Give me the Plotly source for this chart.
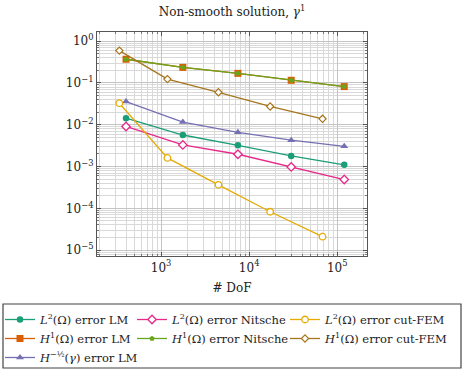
import plotly.graph_objects as go

# ---- data ----
x_lm = [400, 1766, 7450, 30000, 120000]
l2_lm = [0.0144, 0.00569, 0.00323, 0.0018, 0.0011]
h1_lm = [0.37, 0.236, 0.17, 0.116, 0.082]
hm_lm = [0.0359, 0.0116, 0.0066, 0.00427, 0.00305]

x_nit = [400, 1766, 7450, 30000, 120000]
l2_nit = [0.0091, 0.0033, 0.00197, 0.00098, 0.00049]
h1_nit = [0.37, 0.236, 0.17, 0.116, 0.082]

x_cut = [336, 1180, 4480, 17300, 68000]
l2_cut = [0.0328, 0.00161, 0.000366, 8.3e-5, 2.1e-5]
h1_cut = [0.595, 0.124, 0.060, 0.0274, 0.0139]

x_tickvals = [1e3, 1e4, 1e5]
x_ticktext = ["10<sup>3</sup>", "10<sup>4</sup>", "10<sup>5</sup>"]
y_tickvals = [1e0, 1e-1, 1e-2, 1e-3, 1e-4, 1e-5]
y_ticktext = ["10<sup>0</sup>", "10<sup>−1</sup>", "10<sup>−2</sup>",
              "10<sup>−3</sup>", "10<sup>−4</sup>", "10<sup>−5</sup>"]

names = {
    "l2_lm": "<i>L</i><sup>2</sup>(Ω) error LM",
    "h1_lm": "<i>H</i><sup>1</sup>(Ω) error LM",
    "hm_lm": "<i>H</i><sup>−½</sup>(<i>γ</i>) error LM",
    "l2_nit": "<i>L</i><sup>2</sup>(Ω) error Nitsche",
    "h1_nit": "<i>H</i><sup>1</sup>(Ω) error Nitsche",
    "l2_cut": "<i>L</i><sup>2</sup>(Ω) error cut-FEM",
    "h1_cut": "<i>H</i><sup>1</sup>(Ω) error cut-FEM",
}

FONT = "DejaVu Serif"
fig = go.Figure()

def add(x, y, name, color, symbol, size, legend, fill=None, mlw=0):
    fig.add_trace(go.Scatter(
        x=x, y=y, name=name, mode="lines+markers", legend=legend,
        line=dict(color=color, width=1.3),
        marker=dict(symbol=symbol, size=size, color=fill if fill else color,
                    line=dict(color=color, width=mlw)),
    ))

add(x_lm, l2_lm, names["l2_lm"], "#1b9e77", "circle", 6.5, "legend")
add(x_lm, h1_lm, names["h1_lm"], "#d95f02", "square", 7, "legend")
add(x_lm, hm_lm, names["hm_lm"], "#7570b3", "triangle-up", 7, "legend")
add(x_nit, l2_nit, names["l2_nit"], "#e7298a", "diamond", 6.5, "legend2", fill="white", mlw=1.3)
add(x_nit, h1_nit, names["h1_nit"], "#66a61e", "pentagon", 5.5, "legend2")
add(x_cut, l2_cut, names["l2_cut"], "#e6ab02", "circle", 6.5, "legend3", fill="white", mlw=1.3)
add(x_cut, h1_cut, names["h1_cut"], "#a6761d", "diamond", 5.5, "legend3", fill="white", mlw=1.2)

axis_common = dict(
    type="log", showline=True, linecolor="#555", linewidth=1.2, mirror="ticks",
    ticks="inside", ticklen=4, tickcolor="#555", tickwidth=1,
    showgrid=True, gridcolor="#c4c4c4", gridwidth=1, zeroline=False,
    tickmode="array", tickfont=dict(family=FONT, size=12, color="#222"),
    minor=dict(dtick="D1", showgrid=True, gridcolor="#d9d9d9", gridwidth=1,
               ticks="inside", ticklen=2, tickcolor="#777"),
)

fig.update_xaxes(**axis_common, range=[2.2727, 5.3375],
                 tickvals=x_tickvals, ticktext=x_ticktext,
                 title=dict(text="# DoF", font=dict(family=FONT, size=12, color="#222"), standoff=10))
fig.update_yaxes(**axis_common, range=[-5.14, 0.22],
                 tickvals=y_tickvals, ticktext=y_ticktext)

leg_common = dict(font=dict(family=FONT, size=11.5, color="#222"), bgcolor="rgba(0,0,0,0)",
                  xref="container", yref="container", yanchor="top", xanchor="left",
                  orientation="v", borderwidth=0, tracegroupgap=0)

fig.update_layout(
    width=464, height=370,
    margin=dict(l=97, r=97, t=32, b=114, autoexpand=False),
    paper_bgcolor="white", plot_bgcolor="white",
    title=dict(text="Non-smooth solution, <i>γ</i><sup>1</sup>", x=0.5, xanchor="center",
               y=1 - 12 / 370, yanchor="middle", yref="container",
               font=dict(family=FONT, size=12, color="#222")),
    legend=dict(**leg_common, x=0.0, y=1 - 305 / 370),
    legend2=dict(**leg_common, x=132 / 464, y=1 - 305 / 370),
    legend3=dict(**leg_common, x=285 / 464, y=1 - 305 / 370),
    showlegend=True,
    shapes=[dict(type="rect", xref="paper", yref="paper",
                 x0=(3 - 97) / 270, x1=(461 - 97) / 270,
                 y0=(256 - 304) / 224, y1=(256 - 368) / 224,
                 line=dict(color="#444", width=1.2), fillcolor="rgba(0,0,0,0)")],
)

fig.write_html("out.html", config={"displayModeBar": False},
               post_script="document.body.style.margin='0';")
